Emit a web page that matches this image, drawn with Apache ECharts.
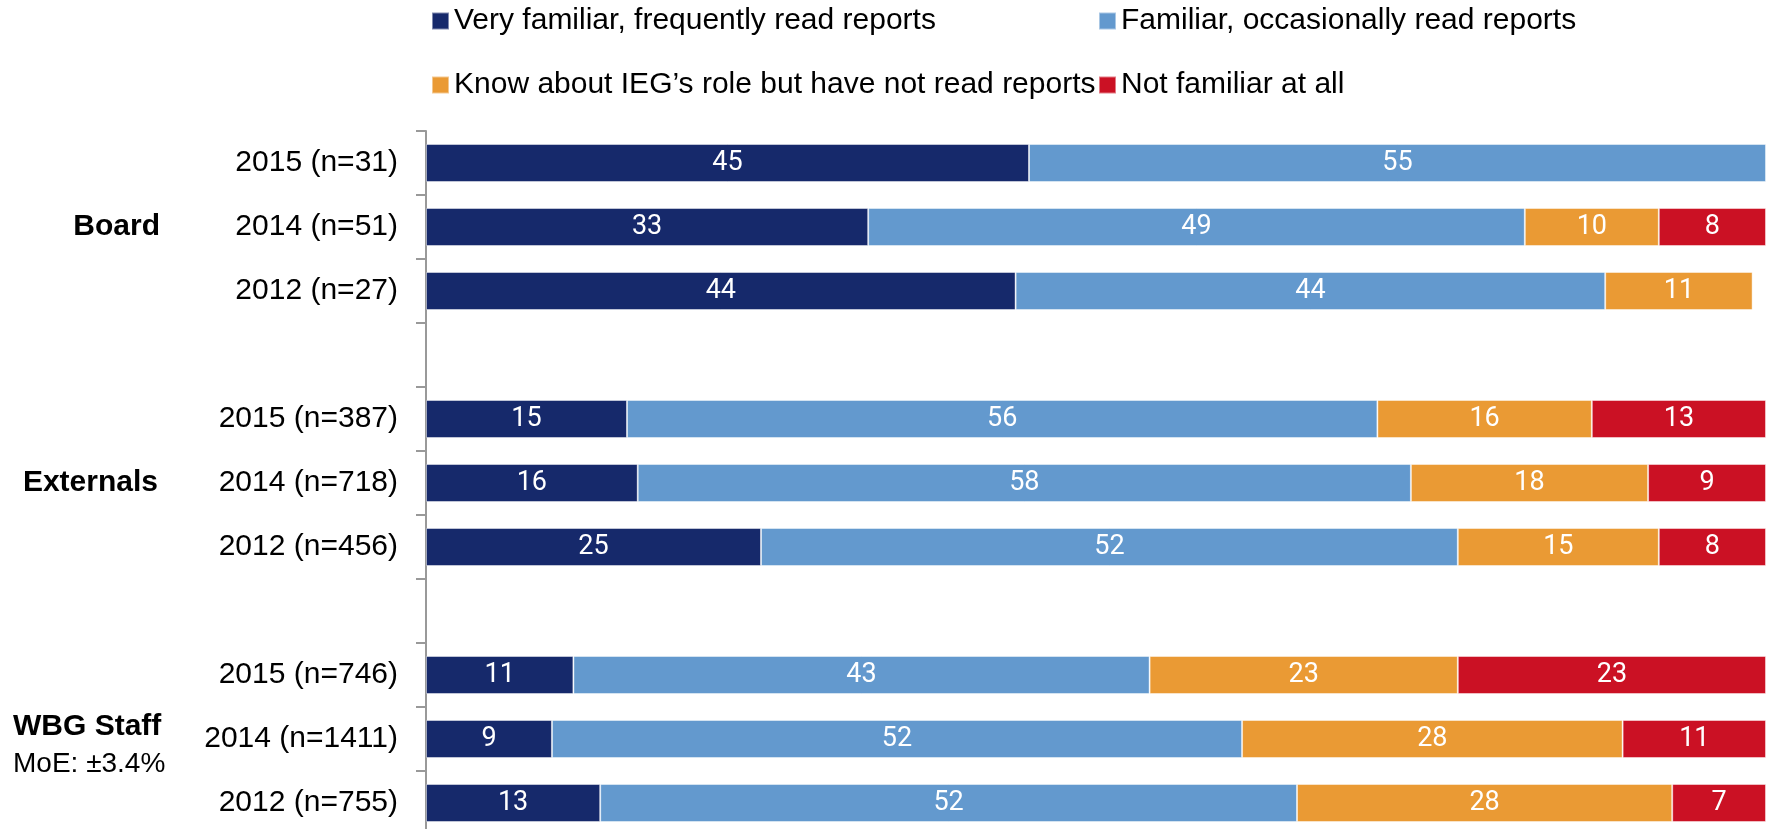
<!DOCTYPE html>
<html>
<head>
<meta charset="utf-8">
<script src="https://cdn.jsdelivr.net/npm/echarts@6/dist/echarts.min.js"></script>
<style>
  html, body { margin: 0; padding: 0; background: #fff; }
  #chart { width: 1771px; height: 829px; }
</style>
</head>
<body>
<div id="chart"></div>
<script>
// rows top to bottom, blank rows separate the groups
const categories = [
  '2015 (n=31)', '2014 (n=51)', '2012 (n=27)', ' ',
  '2015 (n=387)', '2014 (n=718)', '2012 (n=456)', '  ',
  '2015 (n=746)', '2014 (n=1411)', '2012 (n=755)'
]
const seriesNames = [
  'Very familiar, frequently read reports',
  'Familiar, occasionally read reports',
  'Know about IEG\u2019s role but have not read reports',
  'Not familiar at all'
]
const veryFamiliar = [45, 33, 44, '-', 15, 15.8, 25, '-', 11, 9.4, 13]
const familiar = [55, 49, 44, '-', 56, 57.7, 52, '-', 43, 51.5, 52]
const knowAbout = ['-', 10, 11, '-', 16, 17.7, 15, '-', 23, 28.4, 28]
const notFamiliar = ['-', 8, '-', '-', 13, 8.8, 8, '-', 23, 10.7, 7]
const groupLabels = ['Board', 'Externals', 'WBG Staff']
const moeLabel = 'MoE: \u00b13.4%'

const colors = ['#16296b', '#6399ce', '#ea9a34', '#cb1124']
const values = [veryFamiliar, familiar, knowAbout, notFamiliar]
const font = 'Liberation Sans, Arial, sans-serif'

const chart = echarts.init(document.getElementById('chart'))

const legendPos = [
  { left: 431, top: 6 },
  { left: 1098, top: 6 },
  { left: 431, top: 70 },
  { left: 1098, top: 70 }
]

chart.setOption({
  animation: false,
  color: colors,
  legend: seriesNames.map((name, i) => ({
    data: [name],
    left: legendPos[i].left,
    top: legendPos[i].top,
    padding: 0,
    icon: 'rect',
    itemWidth: 17,
    itemHeight: 17,
    textStyle: { fontSize: 30, fontFamily: font, color: '#000' }
  })),
  grid: {
    left: 426,
    top: 131,
    width: 1340,
    height: 704,
    containLabel: false,
    outerBoundsMode: 'none'
  },
  xAxis: {
    type: 'value',
    min: 0,
    max: 100,
    show: false
  },
  yAxis: {
    type: 'category',
    inverse: true,
    data: categories,
    axisLine: { show: true, lineStyle: { color: '#999', width: 2 } },
    axisTick: { show: true, inside: false, alignWithLabel: false, interval: 0, length: 10, lineStyle: { color: '#999', width: 2 } },
    axisLabel: { margin: 28, fontSize: 30, fontFamily: font, color: '#000' }
  },
  graphic: [
    { type: 'text', style: { text: groupLabels[0], x: 160, y: 227, textAlign: 'right', textVerticalAlign: 'middle', fontSize: 30, fontWeight: 'bold', fontFamily: font, fill: '#000' } },
    { type: 'text', style: { text: groupLabels[1], x: 158, y: 483, textAlign: 'right', textVerticalAlign: 'middle', fontSize: 30, fontWeight: 'bold', fontFamily: font, fill: '#000' } },
    { type: 'text', style: { text: groupLabels[2], x: 13, y: 727, textAlign: 'left', textVerticalAlign: 'middle', fontSize: 30, fontWeight: 'bold', fontFamily: font, fill: '#000' } },
    { type: 'text', style: { text: moeLabel, x: 13, y: 764, textAlign: 'left', textVerticalAlign: 'middle', fontSize: 28, fontFamily: font, fill: '#000' } }
  ],
  series: seriesNames.map((name, i) => ({
    name,
    type: 'bar',
    stack: 'total',
    barWidth: 38,
    data: values[i],
    itemStyle: { borderColor: 'rgba(255,255,255,0.45)', borderWidth: 1 },
    label: {
      show: true,
      position: 'inside',
      color: '#fff',
      fontSize: 27,
      fontFamily: 'Roboto, sans-serif',
      formatter: p => Math.round(p.value)
    }
  }))
})
</script>
</body>
</html>
